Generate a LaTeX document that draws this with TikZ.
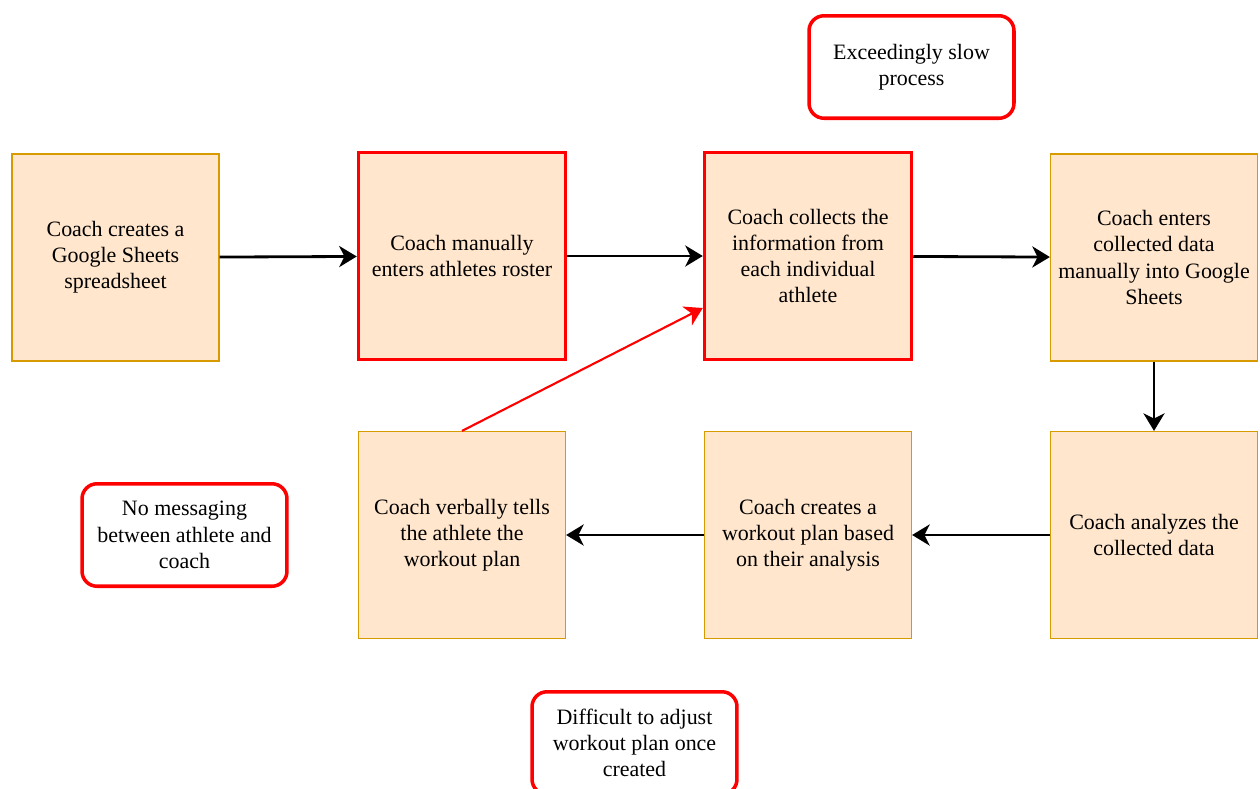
\documentclass[tikz,border=0pt]{standalone}
\usepackage{fontspec}
\setmainfont{Liberation Serif}
\usetikzlibrary{arrows.meta}
\definecolor{boxfill}{HTML}{FFE6CC}
\definecolor{boxline}{HTML}{D79B00}
\tikzset{
    stepbox/.style={draw=boxline, fill=boxfill, line width=0.7pt, minimum width=4.14cm,
        minimum height=4.14cm, align=center, font=\fontsize{12.5}{14.9}\selectfont},
    hotbox/.style={stepbox, draw=red, line width=2pt},
    issue/.style={draw=red, fill=white, line width=2pt, rounded corners=0.3cm, minimum width=4.1cm,
        minimum height=2.05cm, align=center, font=\fontsize{12.5}{14.9}\selectfont},
    flow/.style={-{Stealth[length=10pt,width=12pt,inset=3pt]}, line width=1.6pt},
}

\begin{document}
\begin{tikzpicture}[x=0.02cm, y=-0.02cm]
                \useasboundingbox (0,0) rectangle (1260,788);
                \node[stepbox] (create)  at (115.5,257.5) {Coach creates a\\Google Sheets\\spreadsheet};
                \node[hotbox]  (roster)  at (462,256)     {Coach manually\\enters athletes roster};
                \node[hotbox]  (collect) at (808,256)     {Coach collects the\\information from\\each individual\\athlete};
                \node[stepbox] (enter)   at (1154,257.5)  {Coach enters\\collected data\\manually into Google\\Sheets};
                \node[stepbox] (analyze) at (1154,535)    {Coach analyzes the\\collected data};
                \node[stepbox] (plan)    at (808,535)     {Coach creates a\\workout plan based\\on their analysis};
                \node[stepbox] (tell)    at (462,535)     {Coach verbally tells\\the athlete the\\workout plan};
                \node[issue] (slow)    at (911.5,67)  {Exceedingly slow\\process};
                \node[issue] (nomsg)   at (184.5,535) {No messaging\\between athlete and\\coach};
                \node[issue] (adjust)  at (634.5,743) {Difficult to adjust\\workout plan once\\created};
                \draw[flow] (create) -- (roster);
                \draw[flow] (roster) -- (collect);
                \draw[flow] (collect) -- (enter);
                \draw[flow] (enter) -- (analyze);
                \draw[flow] (analyze) -- (plan);
                \draw[flow] (plan) -- (tell);
                \draw[flow, line width=1.2pt, draw=red, fill=red] (tell.north) -- (collect.west |- 0,308);
            \end{tikzpicture}
\end{document}
